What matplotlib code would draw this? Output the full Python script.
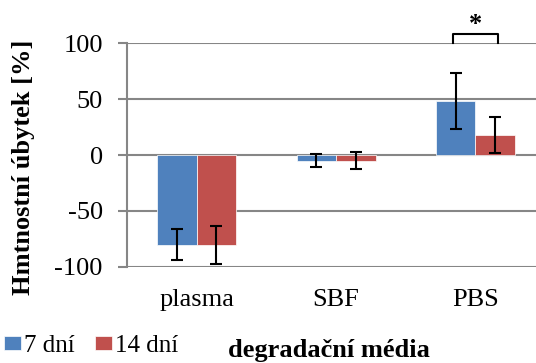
import numpy as np
import matplotlib
matplotlib.use('Agg')
from matplotlib import pyplot as plt

plt.rcParams['font.family'] = ['Liberation Serif', 'DejaVu Serif']

media = ['plasma', 'SBF', 'PBS']
mean_7 = [-80, -5, 48]
mean_14 = [-80, -5, 18]
err_7 = [13.5, 6, 25]
err_14 = [17, 7.5, 16]
series = ['7 dní', '14 dní']
yticks = [-100, -50, 0, 50, 100]

blue = '#4F81BD'
red = '#C0504D'
grid_col = '#868686'

fig = plt.figure(figsize=(5.36, 3.63), dpi=100)
ax = fig.add_axes([0.237, 0.2645, 0.78, 0.617])

x = np.arange(len(media))
w = 0.283
ax.bar(x - w/2, mean_7, w, color=blue, edgecolor='white', linewidth=0.5, label=series[0], zorder=3)
ax.bar(x + w/2, mean_14, w, color=red, edgecolor='white', linewidth=0.5, label=series[1], zorder=3)
ax.errorbar(x - w/2, mean_7, yerr=err_7, fmt='none', ecolor='black', elinewidth=1.5, capsize=4, capthick=1.5, zorder=4)
ax.errorbar(x + w/2, mean_14, yerr=err_14, fmt='none', ecolor='black', elinewidth=1.5, capsize=4, capthick=1.5, zorder=4)

ax.set_xlim(-0.5, len(media) - 0.5)
ax.set_ylim(-100, 100)
ax.set_yticks(yticks)
ax.set_yticklabels([str(t) for t in yticks])
ax.set_xticks(x)
ax.set_xticklabels(media)
for t in yticks:
    ax.axhline(t, color=grid_col, linewidth=1.5, zorder=1)

for s in ['top', 'right', 'bottom']:
    ax.spines[s].set_visible(False)
ax.spines['left'].set_color(grid_col)
ax.spines['left'].set_linewidth(1.5)
ax.tick_params(axis='y', color=grid_col, width=1.5, length=6.5, labelsize=19, pad=11)
ax.tick_params(axis='x', length=0, labelsize=19, pad=16)

ax.set_ylabel('Hmtnostní úbytek [%]', fontsize=19, fontweight='bold')
ax.yaxis.set_label_coords(-0.22, 0.446)
fig.text(0.614, 0.0165, 'degradační média', fontsize=19, fontweight='bold', ha='center', va='baseline')

# significance bracket on PBS
xb = [x[2] - w/2 - 0.02, x[2] - w/2 - 0.02, x[2] + w/2 + 0.02, x[2] + w/2 + 0.02]
yb = [100, 108, 108, 100]
ax.plot(xb, yb, color='black', linewidth=1.5, clip_on=False, zorder=5)
ax.text(x[2], 106, '*', fontsize=19, fontweight='bold', ha='center', va='bottom', clip_on=False)

fig.legend(loc='center left', bbox_to_anchor=(0.0075, 0.047), ncol=2, frameon=False,
           borderpad=0, borderaxespad=0,
           fontsize=18, handlelength=0.66, handleheight=0.48, handletextpad=0.12, columnspacing=0.84)

fig.savefig('out.png', dpi=100)
